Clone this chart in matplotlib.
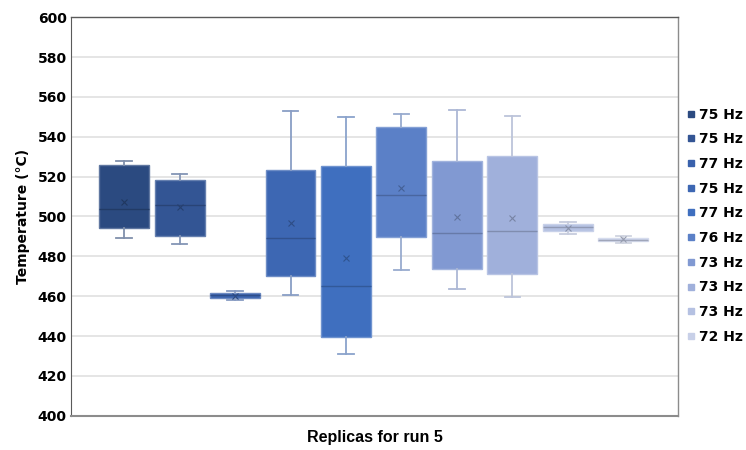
import matplotlib
matplotlib.use("Agg")
import matplotlib.pyplot as plt
from matplotlib.lines import Line2D
import matplotlib.colors as mcolors
import numpy as np

labels = ["75 Hz", "75 Hz", "77 Hz", "75 Hz", "77 Hz", "76 Hz", "73 Hz", "73 Hz", "73 Hz", "72 Hz"]
whisker_low = [489.0, 486.0, 458.3, 460.4, 430.8, 473.0, 463.4, 459.7, 491.2, 486.9]
q1 = [494.1, 490.1, 459.2, 470.0, 439.6, 489.9, 473.4, 471.1, 492.8, 487.5]
medians = [503.7, 505.9, 460.5, 489.0, 465.3, 511.0, 491.6, 492.6, 494.8, 488.4]
q3 = [525.8, 518.2, 461.7, 523.3, 525.3, 545.0, 528.0, 530.6, 496.1, 489.2]
whisker_high = [528.0, 521.3, 462.5, 552.8, 550.1, 551.6, 553.4, 550.3, 497.2, 490.4]
means = [507.3, 504.7, 460.2, 496.5, 479.3, 514.4, 499.7, 499.2, 494.4, 488.7]
colors = ["#2b4a80", "#335594", "#3961ac", "#3d67b3", "#3f6fbf", "#5b80c7",
          "#8199d2", "#a0b0db", "#b5c1e2", "#c8d0e8"]
x_title = "Replicas for run 5"
y_title = "Temperature (°C)"
y_ticks = [400, 420, 440, 460, 480, 500, 520, 540, 560, 580, 600]


def mix(c, other, t):
    a = np.array(mcolors.to_rgb(c))
    b = np.array(mcolors.to_rgb(other))
    return tuple(a * (1 - t) + b * t)


fig = plt.figure(figsize=(7.46, 4.5), dpi=100)
ax = fig.add_axes([0.0948, 0.0762, 0.8144, 0.8854])

for y in y_ticks:
    ax.axhline(y, color="#e3e3e3", lw=1.3, zorder=0)

for i in range(len(labels)):
    st = [dict(whislo=whisker_low[i], q1=q1[i], med=medians[i], q3=q3[i],
               whishi=whisker_high[i], mean=means[i], fliers=[])]
    c = colors[i]
    light = mix(mix(c, "white", 0.4), "#808080", 0.15)
    ax.bxp(st, positions=[i], widths=0.9, patch_artist=True, showmeans=True,
           showfliers=False, capwidths=[0.28],
           boxprops=dict(facecolor=c, edgecolor=mix(c, "white", 0.25), lw=1.0),
           medianprops=dict(color=mix(c, "black", 0.2), lw=1.0),
           whiskerprops=dict(color=light, lw=1.3),
           capprops=dict(color=light, lw=1.3),
           meanprops=dict(marker="x", markeredgecolor=mix(c, "black", 0.25),
                          markersize=5, markeredgewidth=0.8),
           zorder=3)

ax.set_xlim(-0.962, 9.99)
ax.set_ylim(400, 600)
ax.set_yticks(y_ticks)
ax.set_xticks([])
ax.tick_params(axis="y", length=0, pad=3, labelsize=10)
for lab in ax.get_yticklabels():
    lab.set_fontweight("bold")
    lab.set_family("DejaVu Sans")

for s in ["top", "right", "bottom"]:
    ax.spines[s].set_color("#8c8c8c")
    ax.spines[s].set_linewidth(1.0)
ax.spines["left"].set_color("#5a5a5a")
ax.spines["top"].set_color("#5a5a5a")
ax.spines["bottom"].set_linewidth(1.5)

ax.set_xlabel(x_title, fontsize=11.5, fontweight="bold", family="Liberation Sans", labelpad=10)
ax.set_ylabel(y_title, fontsize=10, fontweight="bold", family="DejaVu Sans", labelpad=5)

handles = [Line2D([], [], ls="none", marker="s", markersize=4.5,
                  markerfacecolor=c, markeredgecolor=c) for c in colors]
leg = fig.legend(handles, labels, loc="upper left", bbox_to_anchor=(0.921, 0.761),
                 frameon=False, handlelength=0.6, handletextpad=0.25,
                 labelspacing=0.77, borderpad=0, borderaxespad=0,
                 prop=dict(family="DejaVu Sans", weight="bold", size=10))

fig.savefig("out.png", dpi=100)
